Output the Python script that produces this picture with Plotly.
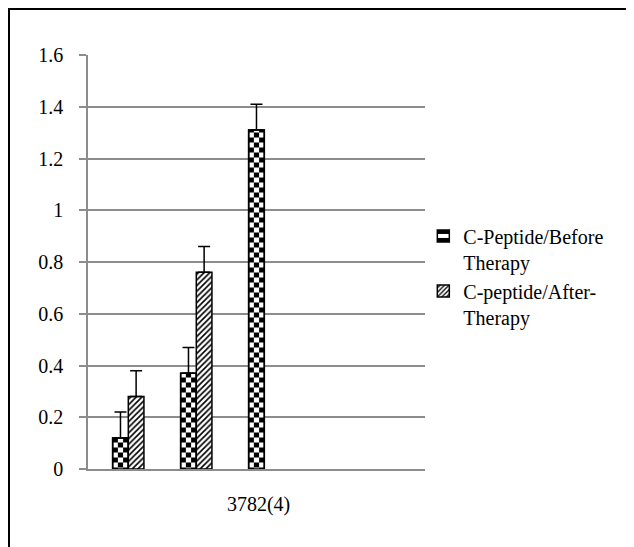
import plotly.graph_objects as go

# ---- data ----
groups = [0, 1, 2]
before_vals = [0.12, 0.37, 1.31]
after_vals = [0.28, 0.76, None]
before_err = [0.10, 0.10, 0.10]
after_err = [0.10, 0.10, None]
series_names = ["C-Peptide/Before<br>Therapy", "C-peptide/After-<br>Therapy"]
category_label = "3782(4)"
y_ticks = [0, 0.2, 0.4, 0.6, 0.8, 1.0, 1.2, 1.4, 1.6]

FONT = "Liberation Serif"
FS = 20
BW = 0.23  # bar width in axis units

# page has an 8px body margin -> compensate
L, T, PW, PH = 80, 47, 337, 414
W, H = 634, 547

fig = go.Figure()

# Before: checkerboard built from a striped bar plus a colour-swapped middle strip
fig.add_trace(go.Bar(
    x=groups, y=before_vals, width=BW, offset=-BW,
    name=series_names[0], legendgroup="b", showlegend=True,
    marker=dict(color="white", line=dict(color="black", width=1.5),
                pattern=dict(shape="-", size=10, solidity=0.5,
                             fgcolor="black", bgcolor="white", fillmode="replace")),
))
fig.add_trace(go.Bar(
    x=groups, y=before_vals, width=BW / 3, offset=-BW + BW / 3,
    legendgroup="b", showlegend=False, hoverinfo="skip",
    marker=dict(color="black", line=dict(width=0),
                pattern=dict(shape="-", size=10, solidity=0.5,
                             fgcolor="white", bgcolor="black", fillmode="replace")),
))
fig.add_trace(go.Bar(
    x=groups, y=before_vals, width=BW, offset=-BW,
    legendgroup="b", showlegend=False,
    marker=dict(color="rgba(0,0,0,0)", line=dict(color="black", width=1.5)),
    error_y=dict(type="data", symmetric=False, array=before_err,
                 arrayminus=[0] * len(before_err),
                 color="black", thickness=1.5, width=6),
))

# After: diagonal hatch
fig.add_trace(go.Bar(
    x=groups, y=after_vals, width=BW, offset=0,
    name=series_names[1], legendgroup="a", showlegend=True,
    marker=dict(color="white", line=dict(color="black", width=1.5),
                pattern=dict(shape="/", size=4, solidity=0.4,
                             fgcolor="black", bgcolor="white", fillmode="replace")),
    error_y=dict(type="data", symmetric=False, array=after_err,
                 arrayminus=[0, 0, None],
                 color="black", thickness=1.5, width=6),
))

x_lo = (88 - 128.3) / 68
x_hi = (425 - 128.3) / 68

fig.update_layout(
    width=W, height=H,
    margin=dict(l=L, r=W - L - PW, t=T, b=H - T - PH, autoexpand=False),
    paper_bgcolor="white", plot_bgcolor="white",
    barmode="overlay",
    font=dict(family=FONT, size=FS, color="black"),
    showlegend=True,
    legend=dict(x=0.995, y=0.61, xanchor="left", yanchor="top",
                valign="top", tracegroupgap=0,
                font=dict(family=FONT, size=FS, color="black"),
                bgcolor="rgba(0,0,0,0)"),
    xaxis=dict(range=[x_lo, x_hi], showgrid=False, zeroline=False,
               showline=True, linecolor="#8c8c8c", linewidth=1.5,
               tickmode="array", tickvals=[(x_lo + x_hi) / 2 + 0.03],
               ticktext=[category_label], ticks="", ticklabelstandoff=16,
               fixedrange=True),
    yaxis=dict(range=[0, 1.6], tickmode="array", tickvals=y_ticks,
               ticktext=[f"{v:g}" for v in y_ticks],
               showgrid=True, gridcolor="#8c8c8c", gridwidth=1.5,
               zeroline=False, showline=True, linecolor="#8c8c8c", linewidth=1.5,
               ticks="outside", ticklen=7, tickcolor="#8c8c8c", tickwidth=1.5,
               ticklabelstandoff=12, fixedrange=True),
)

# outer chart frame
fig.add_shape(type="rect", xref="paper", yref="paper",
              x0=(1 - L) / PW, x1=(625 - L) / PW,
              y0=-(H - T - PH + 20) / PH, y1=1 + (T - 1) / PH,
              line=dict(color="black", width=2), fillcolor="rgba(0,0,0,0)",
              layer="below")

fig.write_html("out.html")
